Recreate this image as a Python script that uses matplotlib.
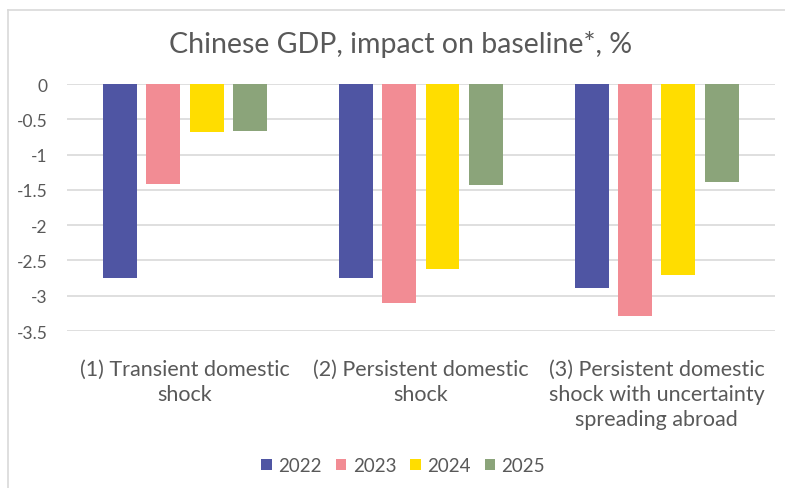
import matplotlib.pyplot as plt
import numpy as np
from matplotlib.lines import Line2D

plt.rcParams["font.family"] = ["Lato", "DejaVu Sans"]

scenarios = [
    "(1) Transient domestic\nshock",
    "(2) Persistent domestic\nshock",
    "(3) Persistent domestic\nshock with uncertainty\nspreading abroad",
]
years = ["2022", "2023", "2024", "2025"]
impact_2022 = [-2.75, -2.75, -2.89]
impact_2023 = [-1.42, -3.10, -3.28]
impact_2024 = [-0.68, -2.62, -2.71]
impact_2025 = [-0.67, -1.43, -1.39]
colors = ["#4F55A3", "#F28C94", "#FFDD00", "#8BA47A"]

series = [impact_2022, impact_2023, impact_2024, impact_2025]
text_gray = "#595959"

fig = plt.figure(figsize=(7.85, 4.89), dpi=100)
ax = fig.add_axes([0.0854, 0.321, 0.9016, 0.505])

x = np.arange(len(scenarios))
width = 0.144
step = 0.183
for i, (vals, year, c) in enumerate(zip(series, years, colors)):
    ax.bar(x + (i - 1.5) * step, vals, width, color=c, label=year, zorder=3)

ax.set_xlim(-0.5, 2.5)
ax.set_ylim(-3.5, 0)
ax.set_yticks(np.arange(-3.5, 0.01, 0.5))
ax.set_yticklabels(["-3.5", "-3", "-2.5", "-2", "-1.5", "-1", "-0.5", "0"])
ax.yaxis.grid(True, color="#D9D9D9", linewidth=1.2, zorder=0)
ax.set_xticks(x)
ax.set_xticklabels(scenarios, fontsize=15.5, color=text_gray, linespacing=1.32)
ax.tick_params(axis="x", length=0, pad=20)
ax.tick_params(axis="y", length=0, pad=14, labelsize=12.5, labelcolor=text_gray)
for s in ax.spines.values():
    s.set_visible(False)

fig.text(0.51, 0.91, "Chinese GDP, impact on baseline*, %", ha="center",
         va="center", fontsize=20.5, color=text_gray)

ax.legend(loc="center", bbox_to_anchor=(0.475, -0.545), ncol=4, frameon=False,
          fontsize=13.5, handlelength=0.55, handleheight=0.55, handletextpad=0.35,
          columnspacing=0.75, labelcolor=text_gray)

# light chart frame along the top and left edges
fig.add_artist(Line2D([8 / 785, 1], [1 - 11 / 489, 1 - 11 / 489],
                      transform=fig.transFigure, color="#D9D9D9", lw=1.2))
fig.add_artist(Line2D([8 / 785, 8 / 785], [0, 1 - 11 / 489],
                      transform=fig.transFigure, color="#D9D9D9", lw=1.2))

fig.savefig("out.png", dpi=100)
plt.close(fig)
